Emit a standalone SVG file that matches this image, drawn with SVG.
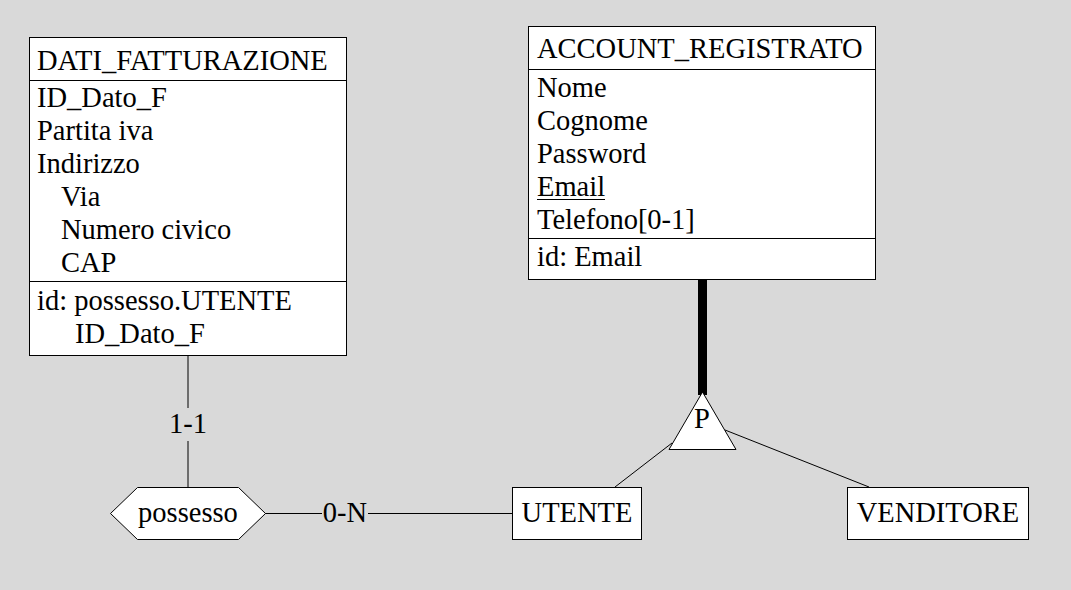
<svg xmlns="http://www.w3.org/2000/svg" width="1071" height="590" viewBox="0 0 1071 590" font-family="Liberation Serif, Times New Roman, serif" font-size="28.5">
<style>
.box{fill:#fff;stroke:#000;stroke-width:1}
.ln{stroke:#000;stroke-width:1;fill:none}
.mid{text-anchor:middle}
</style>
<rect width="1071" height="590" fill="#d9d9d9"/>
<g id="connectors">
<line class="ln" x1="188" y1="355" x2="188" y2="408"/>
<line class="ln" x1="188" y1="441" x2="188" y2="487"/>
<text class="mid" x="188" y="433">1-1</text>
<line class="ln" x1="265" y1="513.5" x2="322" y2="513.5"/>
<line class="ln" x1="368" y1="513.5" x2="512" y2="513.5"/>
<text class="mid" x="345" y="522">0-N</text>
<line stroke="#000" stroke-width="9" x1="702.5" y1="279" x2="702.5" y2="395"/>
<line class="ln" x1="672" y1="443" x2="615" y2="487"/>
<line class="ln" x1="725" y1="430" x2="869" y2="487"/>
</g>
<g id="DATI_FATTURAZIONE">
<rect class="box" x="29.5" y="37.5" width="317" height="318"/>
<line class="ln" x1="29.5" y1="80.5" x2="346.5" y2="80.5"/>
<line class="ln" x1="29.5" y1="281.5" x2="346.5" y2="281.5"/>
<text x="37" y="70">DATI_FATTURAZIONE</text>
<text x="37" y="107">ID_Dato_F</text>
<text x="37" y="140">Partita iva</text>
<text x="37" y="173">Indirizzo</text>
<text x="61" y="206">Via</text>
<text x="61" y="239">Numero civico</text>
<text x="61" y="272">CAP</text>
<text x="37" y="310">id: possesso.UTENTE</text>
<text x="75" y="343">ID_Dato_F</text>
</g>
<g id="ACCOUNT_REGISTRATO">
<rect class="box" x="528.5" y="26.5" width="347" height="253"/>
<line class="ln" x1="528.5" y1="69.5" x2="875.5" y2="69.5"/>
<line class="ln" x1="528.5" y1="238.5" x2="875.5" y2="238.5"/>
<text x="537" y="58">ACCOUNT_REGISTRATO</text>
<text x="537" y="97">Nome</text>
<text x="537" y="130">Cognome</text>
<text x="537" y="163">Password</text>
<text x="537" y="196">Email</text>
<line class="ln" x1="537" y1="199.5" x2="605" y2="199.5"/>
<text x="537" y="229">Telefono[0-1]</text>
<text x="537" y="266">id: Email</text>
</g>
<g id="P">
<polygon class="box" points="702.5,392 669,449.5 736,449.5"/>
<text class="mid" x="702" y="428">P</text>
</g>
<g id="possesso">
<polygon class="box" points="110.5,513.5 137.5,487.5 238.5,487.5 265.5,513.5 238.5,539.5 137.5,539.5"/>
<text class="mid" x="188" y="522">possesso</text>
</g>
<g id="UTENTE">
<rect class="box" x="512.5" y="487.5" width="129" height="52"/>
<text class="mid" x="577" y="522">UTENTE</text>
</g>
<g id="VENDITORE">
<rect class="box" x="847.5" y="487.5" width="181" height="52"/>
<text class="mid" x="938" y="522">VENDITORE</text>
</g>
</svg>
